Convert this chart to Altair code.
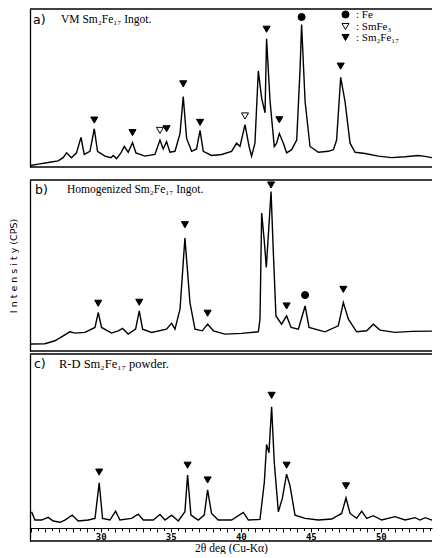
import altair as alt
import pandas as pd

# ---------------- data ----------------
phases = ["Fe", "SmFe₃", "Sm₂Fe₁₇"]
panel_tags = ["a)", "b)", "c)"]
panel_names = ["VM Sm₂Fe₁₇ Ingot.", "Homogenized Sm₂Fe₁₇ Ingot.", "R-D Sm₂Fe₁₇ powder."]
y_title = "I n t e n s i t y  (CPS)"
x_title = "2θ deg (Cu-Kα)"
x_ticks = [v / 2 for v in range(50, 108)]

# panel a : VM Sm2Fe17 ingot
a_theta = [25.0, 25.54, 26.25, 26.96, 27.32, 27.56, 27.91, 28.27, 28.59, 28.82,
           29.23, 29.54, 29.77, 30.30, 30.73, 30.89, 31.13, 31.44, 31.68, 31.96,
           32.27, 32.51, 33.16, 33.87, 34.23, 34.46, 34.70, 34.94, 35.30, 35.66,
           35.89, 36.13, 36.49, 36.84, 37.09, 37.32, 37.91, 38.63, 39.34, 39.70,
           39.94, 40.30, 40.59, 40.77, 41.01, 41.25, 41.49, 41.73, 41.84, 42.09,
           42.39, 42.56, 42.75, 43.04, 43.27, 43.63, 43.99, 44.23, 44.34, 44.59,
           44.94, 45.54, 46.25, 46.61, 46.84, 47.13, 47.44, 47.80, 48.16, 48.87,
           49.82, 50.77, 51.73, 52.68, 53.04, 53.63, 53.8]
a_int = [1.5, 3.0, 4.7, 6.3, 9.7, 14.7, 9.7, 14.7, 30.7, 13.0,
         16.3, 39.7, 16.3, 11.3, 9.7, 12.0, 8.7, 14.7, 21.3, 15.3,
         25.3, 14.7, 11.3, 13.0, 28.0, 18.7, 26.3, 15.3, 16.3, 34.7,
         73.0, 29.7, 16.3, 18.7, 38.0, 16.3, 12.0, 13.0, 16.3, 24.7,
         21.3, 44.0, 21.3, 11.3, 24.7, 99.7, 71.3, 56.3, 133.0, 68.0,
         21.3, 24.7, 34.7, 24.7, 14.7, 18.0, 28.0, 101.3, 148.0, 68.0,
         21.3, 15.3, 16.3, 18.0, 28.0, 93.0, 68.0, 24.7, 15.3, 14.0,
         11.3, 9.7, 10.7, 12.0, 11.3, 9.7, 10.0]
a_mk_theta = [29.54, 32.27, 34.23, 34.70, 35.89, 37.09, 40.30, 41.84, 42.75, 44.34, 47.13]
a_mk_int = [48.7, 35.7, 38.0, 39.7, 86.3, 46.3, 53.0, 143.0, 49.0, 155.7, 104.7]
a_mk_phase = ["Sm₂Fe₁₇", "Sm₂Fe₁₇", "SmFe₃", "Sm₂Fe₁₇", "Sm₂Fe₁₇", "Sm₂Fe₁₇",
              "SmFe₃", "Sm₂Fe₁₇", "Sm₂Fe₁₇", "Fe", "Sm₂Fe₁₇"]

# panel b : homogenized ingot
b_theta = [25.0, 26.01, 26.73, 27.32, 27.80, 28.16, 28.87, 29.59, 29.82, 30.06,
           30.77, 31.25, 31.56, 31.96, 32.49, 32.75, 32.99, 33.63, 34.70, 35.06,
           35.30, 35.66, 36.01, 36.37, 36.73, 37.25, 37.63, 38.04, 38.87, 40.06,
           41.25, 41.37, 41.49, 41.68, 41.82, 42.16, 42.32, 42.51, 42.91, 43.27,
           43.59, 44.11, 44.59, 44.87, 46.01, 46.96, 47.32, 47.68, 48.27, 48.99,
           49.46, 49.94, 51.01, 52.20, 53.8]
b_int = [7.0, 7.3, 10.3, 15.3, 19.3, 18.0, 18.7, 23.7, 38.7, 23.7,
         18.0, 20.3, 22.7, 17.0, 22.0, 40.3, 22.0, 18.7, 22.0, 28.0,
         22.0, 42.0, 113.7, 48.7, 22.0, 20.3, 27.0, 20.3, 17.0, 17.7,
         19.3, 32.0, 138.7, 110.0, 84.0, 160.3, 100.0, 35.3, 27.0, 35.3,
         23.7, 22.0, 45.3, 23.7, 19.3, 25.3, 48.7, 32.0, 19.3, 20.3,
         27.0, 21.0, 18.7, 19.7, 20.0]
b_mk_theta = [29.82, 32.75, 36.01, 37.63, 42.16, 43.27, 44.59, 47.32]
b_mk_int = [48.0, 49.0, 127.0, 38.0, 167.0, 45.3, 56.3, 62.0]
b_mk_phase = ["Sm₂Fe₁₇", "Sm₂Fe₁₇", "Sm₂Fe₁₇", "Sm₂Fe₁₇", "Sm₂Fe₁₇", "Sm₂Fe₁₇",
              "Fe", "Sm₂Fe₁₇"]

# panel c : R-D powder
c_theta = [25.06, 25.30, 25.77, 26.25, 26.61, 27.09, 27.44, 27.96, 28.39, 29.11,
           29.59, 29.89, 30.13, 30.66, 31.06, 31.37, 32.20, 32.68, 33.04, 33.75,
           34.23, 34.59, 35.06, 35.54, 36.01, 36.20, 36.44, 36.96, 37.39, 37.63,
           37.91, 38.39, 39.34, 40.18, 40.54, 41.37, 41.68, 41.84, 42.01, 42.20,
           42.39, 42.68, 42.96, 43.27, 43.51, 43.87, 44.59, 45.54, 46.49, 47.20,
           47.51, 47.80, 48.27, 48.63, 48.99, 49.46, 50.06, 51.01, 51.73, 52.44,
           52.80, 53.16, 53.63, 53.8]
c_int = [29.7, 21.3, 21.3, 24.0, 20.3, 19.0, 21.3, 26.3, 20.3, 21.3,
         23.0, 59.0, 23.0, 21.3, 30.3, 21.3, 23.0, 27.3, 21.3, 21.3,
         27.0, 21.3, 26.3, 20.3, 29.7, 67.0, 26.3, 21.3, 26.3, 52.0,
         28.0, 21.3, 21.3, 29.0, 21.3, 22.0, 59.7, 98.0, 89.7, 136.3,
         79.7, 29.7, 43.0, 68.0, 56.3, 26.3, 23.0, 21.3, 22.3, 28.0,
         43.7, 28.0, 23.0, 30.3, 23.0, 25.7, 21.3, 24.7, 21.3, 23.7,
         21.3, 23.7, 21.3, 23.0]
c_mk_theta = [29.89, 36.20, 37.63, 42.20, 43.27, 47.51]
c_mk_int = [70.0, 77.0, 62.0, 148.0, 77.0, 56.0]
c_mk_phase = ["Sm₂Fe₁₇"] * 6

# intensity range of each panel box
y_max = [164, 172, 190]

# ---------------- chart ----------------
W = 402
xscale = alt.Scale(domain=[24.95, 53.65], nice=False, zero=False)
shape_scale = alt.Scale(domain=phases, range=["circle", "triangle-down", "triangle-down"])
fill_scale = alt.Scale(domain=phases, range=["black", "white", "black"])
stroke_scale = alt.Scale(domain=phases, range=["black", "black", "black"])

legend = alt.Legend(orient="none", legendX=310, legendY=0, title=None, padding=0,
                    labelFont="Liberation Serif", labelFontSize=11, labelColor="black",
                    labelExpr="': ' + datum.label", symbolStrokeColor="black",
                    symbolStrokeWidth=1, symbolSize=50, rowPadding=-4, labelOffset=5)

c_axis = alt.Axis(orient="bottom", offset=-13, values=x_ticks,
                  labelExpr="datum.value % 5 === 0 && datum.value > 26 ? format(datum.value, 'd') : ''",
                  tickSize={"condition": {"test": "datum.value % 1 === 0", "value": 4}, "value": 2.5},
                  tickColor="black", tickWidth=1, domainColor="black", domainWidth=1.2,
                  labelFont="DejaVu Sans Mono", labelFontSize=9, labelFontWeight="bold",
                  labelColor="black", labelPadding=0, labelFlush=False, labelOverlap=False,
                  grid=False, title=x_title, titleFont="Liberation Serif", titleFontSize=11.5,
                  titleFontWeight="normal", titleColor="black", titlePadding=1)


def panel(theta, inten, mk_t, mk_i, mk_p, ymax, h, tag, name, tag_xy, name_xy,
          name_size, x_axis, ytitle):
    yscale = alt.Scale(domain=[0, ymax], nice=False, zero=False)
    if ytitle:
        yaxis = alt.Axis(title=ytitle, ticks=False, labels=False, grid=False,
                         domainColor="black", domainWidth=1.3, titleFont="DejaVu Sans",
                         titleFontSize=9.5, titleFontWeight="normal", titleColor="black",
                         titlePadding=12)
    else:
        yaxis = alt.Axis(title=None, ticks=False, labels=False, grid=False,
                         domainColor="black", domainWidth=1.3)
    yenc = alt.Y("I:Q", scale=yscale, axis=yaxis)
    xenc = alt.X("theta:Q", scale=xscale, axis=x_axis)

    frame = alt.Chart(pd.DataFrame({"I": [0, ymax]})).mark_rule(
        color="black", strokeWidth=1.3).encode(y=yenc)
    curve = alt.Chart(pd.DataFrame({"theta": theta, "I": inten})).mark_line(
        color="black", strokeWidth=1.4, clip=True).encode(x=xenc, y=yenc)
    marks = alt.Chart(pd.DataFrame({"theta": mk_t, "I": mk_i, "phase": mk_p})).mark_point(
        filled=True, size=50, strokeWidth=1, opacity=1).encode(
        x=xenc, y=yenc,
        shape=alt.Shape("phase:N", scale=shape_scale, legend=legend),
        fill=alt.Fill("phase:N", scale=fill_scale, legend=legend),
        stroke=alt.Stroke("phase:N", scale=stroke_scale, legend=legend))
    tag_text = alt.Chart(pd.DataFrame({"t": [tag]})).mark_text(
        align="left", baseline="middle", font="DejaVu Sans", fontSize=12.5,
        color="black").encode(text="t:N", x=alt.value(tag_xy[0]), y=alt.value(tag_xy[1]))
    name_text = alt.Chart(pd.DataFrame({"t": [name]})).mark_text(
        align="left", baseline="middle", font="Liberation Serif", fontSize=name_size,
        color="black").encode(text="t:N", x=alt.value(name_xy[0]), y=alt.value(name_xy[1]))
    return alt.layer(frame, curve, marks, tag_text, name_text).properties(width=W, height=h)


pa = panel(a_theta, a_int, a_mk_theta, a_mk_int, a_mk_phase, y_max[0], 158,
           panel_tags[0], panel_names[0], (3, 11), (31, 11), 11.5, None, None)
pb = panel(b_theta, b_int, b_mk_theta, b_mk_int, b_mk_phase, y_max[1], 171,
           panel_tags[1], panel_names[1], (5, 10), (37, 10), 11.5, None, y_title)
pc = panel(c_theta, c_int, c_mk_theta, c_mk_int, c_mk_phase, y_max[2], 187,
           panel_tags[2], panel_names[2], (4, 10), (29, 10), 12.5, c_axis, None)

chart = alt.vconcat(pa, alt.vconcat(pb, pc, spacing=1), spacing=11).properties(
    padding=0, background="white").configure_view(stroke=None)

chart.save("out.html", embed_options={"renderer": "svg", "actions": False})
